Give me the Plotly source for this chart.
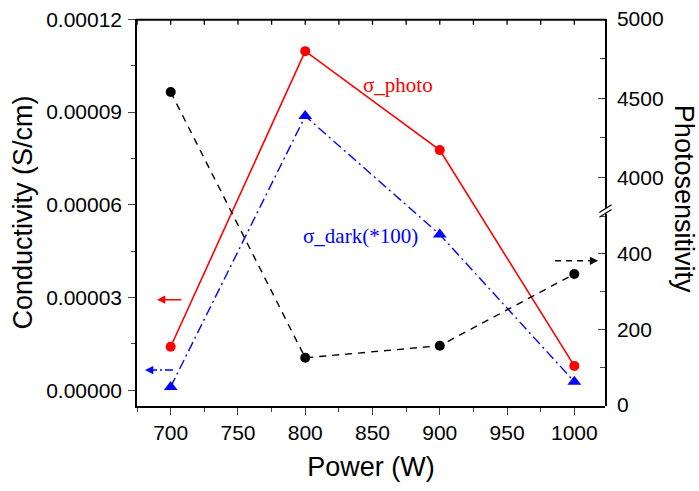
import plotly.graph_objects as go

# ---------------- data ----------------
power = [700, 800, 900, 1000]
sigma_photo = [1.41e-5, 1.097e-4, 7.77e-5, 7.9e-6]          # S/cm
sigma_dark_x100 = [1.1e-6, 8.87e-5, 5.04e-5, 2.8e-6]        # S/cm (*100)
photosensitivity = [4540, 125, 157, 347]

x_ticks = [700, 750, 800, 850, 900, 950, 1000]
left_ticks = [0.0, 0.00003, 0.00006, 0.00009, 0.00012]
right_low_ticks = [0, 200, 400]
right_up_ticks = [4000, 4500, 5000]

# ---------------- broken right axis set-up ----------------
LOW_RANGE = [-2.6, 513.9]
UP_RANGE = [3789.4, 5000.5]
SPLIT = 0.5039  # paper fraction where the axis breaks
X_RANGE = [674.95, 1022.8]


def broken_pos(v):
    """Position (0..1 of plot height) of a value on the broken right axis."""
    if v <= LOW_RANGE[1]:
        return SPLIT * (v - LOW_RANGE[0]) / (LOW_RANGE[1] - LOW_RANGE[0])
    return SPLIT + (1 - SPLIT) * (v - UP_RANGE[0]) / (UP_RANGE[1] - UP_RANGE[0])


ps_pos = [broken_pos(v) for v in photosensitivity]

SANS = "Liberation Sans, Arial, sans-serif"
SERIF = "Liberation Serif, Times New Roman, serif"
TICKFONT = dict(family=SANS, size=21, color="black")

fig = go.Figure()

fig.add_trace(go.Scatter(
    x=power, y=sigma_photo, mode="lines+markers", name="σ_photo",
    line=dict(color="#ff0000", width=1.6),
    marker=dict(symbol="circle", size=10, color="#ff0000"),
    xaxis="x", yaxis="y", showlegend=False))

fig.add_trace(go.Scatter(
    x=power, y=sigma_dark_x100, mode="lines+markers", name="σ_dark(*100)",
    line=dict(color="#0000ff", width=1.4, dash="10px,4px,2px,4px"),
    marker=dict(symbol="triangle-up", size=12, color="#0000ff"),
    xaxis="x", yaxis="y", showlegend=False))

fig.add_trace(go.Scatter(
    x=power, y=ps_pos, mode="lines+markers", name="Photosensitivity",
    customdata=photosensitivity,
    hovertemplate="%{x}: %{customdata}<extra></extra>",
    line=dict(color="black", width=1.4, dash="7px,6px"),
    marker=dict(symbol="circle", size=10, color="black"),
    xaxis="x", yaxis="y4", showlegend=False))

# invisible helper traces so the display axes are created
fig.add_trace(go.Scatter(x=[None], y=[None], xaxis="x", yaxis="y2", showlegend=False, hoverinfo="skip"))
fig.add_trace(go.Scatter(x=[None], y=[None], xaxis="x", yaxis="y3", showlegend=False, hoverinfo="skip"))

fig.update_layout(
    width=699, height=491,
    margin=dict(l=137, r=94, t=19, b=85, autoexpand=False),
    paper_bgcolor="white", plot_bgcolor="rgba(0,0,0,0)",
    showlegend=False,
    xaxis=dict(
        range=X_RANGE, tickvals=x_ticks, ticks="outside", ticklen=7, tickwidth=1.3,
        minor=dict(dtick=25, tick0=0, ticks="outside", ticklen=4, tickwidth=1.3),
        showline=True, linecolor="black", linewidth=1.5, showgrid=False, zeroline=False,
        tickfont=TICKFONT,
        title=dict(text="Power (W)", font=dict(family=SANS, size=27, color="black"), standoff=14),
        anchor="y", domain=[0, 1],
    ),
    yaxis=dict(
        range=[-5.07e-6, 0.0001201], tickvals=left_ticks, tickformat=".5f",
        ticks="outside", ticklen=7, tickwidth=1.3,
        minor=dict(dtick=0.000015, tick0=0, ticks="outside", ticklen=4, tickwidth=1.3),
        showline=True, linecolor="black", linewidth=1.5, showgrid=False, zeroline=False,
        tickfont=TICKFONT, ticklabelstandoff=2,
        title=dict(text="Conductivity (S/cm)", font=dict(family=SANS, size=27, color="black"), standoff=6),
        domain=[0, 1], anchor="x",
    ),
    yaxis2=dict(
        range=LOW_RANGE, tickvals=right_low_ticks, side="right", anchor="x",
        domain=[0, SPLIT], ticks="inside", ticklen=7, tickwidth=1.3,
        minor=dict(dtick=100, tick0=0, ticks="inside", ticklen=5, tickwidth=1.3),
        showline=True, linecolor="black", linewidth=1.5, showgrid=False, zeroline=False,
        tickfont=TICKFONT, ticklabelstandoff=6,
    ),
    yaxis3=dict(
        range=UP_RANGE, tickvals=right_up_ticks, side="right", anchor="x",
        domain=[SPLIT, 1], ticks="inside", ticklen=7, tickwidth=1.3,
        minor=dict(dtick=250, tick0=0, ticks="inside", ticklen=5, tickwidth=1.3),
        showline=True, linecolor="black", linewidth=1.5, showgrid=False, zeroline=False,
        tickfont=TICKFONT, ticklabelstandoff=6,
    ),
    yaxis4=dict(
        range=[0, 1], domain=[0, 1], overlaying="y", anchor="x", side="right",
        visible=False, showgrid=False, zeroline=False,
    ),
)

# top frame line with inward ticks (every 25 W, following the x axis ticks)
TOP = 0.998
fig.add_shape(type="line", xref="paper", yref="paper", x0=-0.002, x1=1.002, y0=TOP, y1=TOP,
              line=dict(color="black", width=1.8), layer="above")
top_tick_vals = [v for v in range(675, 1025, 25) if X_RANGE[0] <= v <= X_RANGE[1]]
for v in top_tick_vals:
    fig.add_shape(type="line", xref="x", yref="paper", x0=v, x1=v, y0=TOP, y1=TOP - 5 / 387,
                  line=dict(color="black", width=1.3), layer="above")

# axis break marks on the right axis
fig.add_shape(type="rect", xref="paper", yref="paper", x0=0.985, x1=1.015,
              y0=SPLIT - 0.008, y1=SPLIT + 0.008, fillcolor="white", line=dict(width=0), layer="above")
for dy in (-0.006, 0.006):
    fig.add_shape(type="line", xref="paper", yref="paper",
                  x0=0.988, x1=1.014, y0=SPLIT + dy - 0.01, y1=SPLIT + dy + 0.01,
                  line=dict(color="black", width=1.2), layer="above")

# series labels
fig.add_annotation(x=869, y=9.87e-5, xref="x", yref="y", text="σ_photo", showarrow=False,
                   font=dict(family=SERIF, size=21, color="#ff0000"))
fig.add_annotation(x=840.7, y=4.99e-5, xref="x", yref="y", text="σ_dark(*100)", showarrow=False,
                   font=dict(family=SERIF, size=21, color="#0000ff"))

# axis indicator arrows
fig.add_annotation(x=689.8, y=2.93e-5, xref="x", yref="y", ax=709, ay=2.93e-5, axref="x", ayref="y",
                   text="", showarrow=True, arrowhead=2, arrowsize=1.1, arrowwidth=1.5, arrowcolor="#ff0000")
fig.add_shape(type="line", xref="x", yref="y", x0=701.7, x1=686, y0=6.56e-6, y1=6.56e-6,
              line=dict(color="#0000ff", width=1.4, dash="8px,3px,2px,3px"))
fig.add_annotation(x=680.9, y=6.56e-6, xref="x", yref="y", ax=8, ay=0,
                   text="", showarrow=True, arrowhead=2, arrowsize=1.1, arrowwidth=1.5, arrowcolor="#0000ff")
fig.add_shape(type="line", xref="x", yref="y2", x0=985.7, x1=1012, y0=382, y1=382,
              line=dict(color="black", width=1.4, dash="6px,5px"))
fig.add_annotation(x=1017.7, y=382, xref="x", yref="y2", ax=-8, ay=0,
                   text="", showarrow=True, arrowhead=2, arrowsize=1.1, arrowwidth=1.5, arrowcolor="black")

# right axis title (reads top to bottom)
fig.add_annotation(x=1.169, y=0.535, xref="paper", yref="paper", text="Photosensitivity",
                   xanchor="center", yanchor="middle",
                   textangle=90, showarrow=False, font=dict(family=SANS, size=27, color="black"))

fig.write_html("out.html")
